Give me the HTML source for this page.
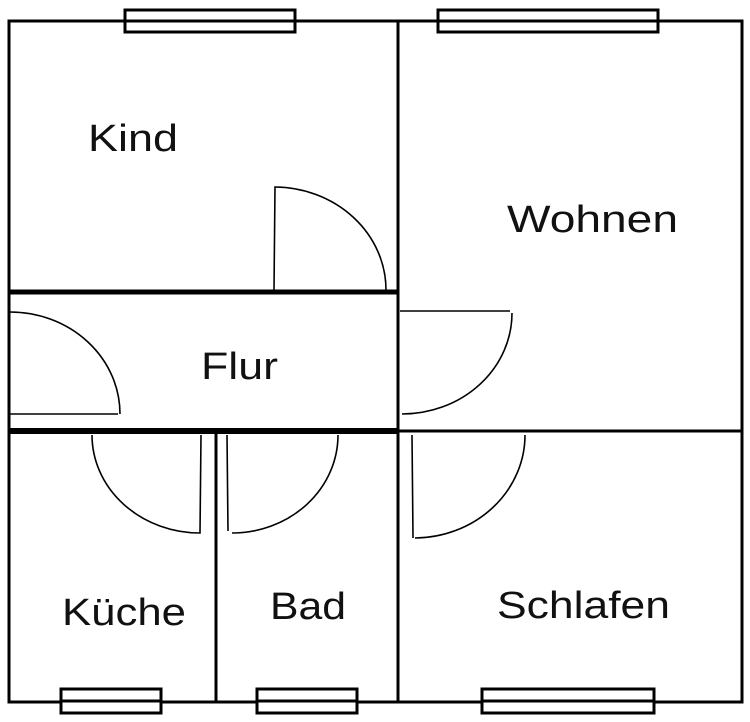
<!DOCTYPE html>
<html><head><meta charset="utf-8"><style>html,body{margin:0;padding:0;background:#fff}svg{display:block}</style></head>
<body>
<svg width="750" height="722" viewBox="0 0 750 722" xmlns="http://www.w3.org/2000/svg">
<g fill="none" stroke="#000">
<rect x="9" y="21" width="733" height="681" stroke-width="3"/>
<line x1="398" y1="21" x2="398" y2="702" stroke-width="3"/>
<line x1="9" y1="292" x2="398" y2="292" stroke-width="5"/>
<line x1="9" y1="431" x2="398" y2="431" stroke-width="6"/>
<line x1="398" y1="431" x2="742" y2="431" stroke-width="3"/>
<line x1="216" y1="431" x2="216" y2="702" stroke-width="3"/>
<g fill="#fff" stroke-width="3">
<rect x="125" y="10" width="170" height="22"/>
<rect x="438" y="10" width="220" height="22"/>
<rect x="61" y="689" width="100" height="24"/>
<rect x="257" y="689" width="100" height="24"/>
<rect x="482" y="689" width="172" height="24"/>
</g>
<line x1="125" y1="21" x2="295" y2="21" stroke-width="3"/>
<line x1="438" y1="21" x2="658" y2="21" stroke-width="3"/>
<line x1="61" y1="701" x2="161" y2="701" stroke-width="3"/>
<line x1="257" y1="701" x2="357" y2="701" stroke-width="3"/>
<line x1="482" y1="701" x2="654" y2="701" stroke-width="3"/>
<g stroke-width="1.6">
<path d="M274 290 L275 187 A112 103 0 0 1 386 290"/>
<path d="M10 414 L118 414 M10 312 A110 102 0 0 1 120 414"/>
<path d="M400 311 L510 311 M512 313 A110 101 0 0 1 402 414"/>
<path d="M201 435 L200 533 A108 98 0 0 1 92 435"/>
<path d="M227 435 L228 531 M238 435 L238 435 M338 435 A106 98 0 0 1 232 533"/>
<path d="M412 435 L413 538 M525 435 A111 103 0 0 1 415 538"/>
</g>
</g>
<g font-family="'Liberation Sans', sans-serif" font-size="38" fill="#111">
<text x="88" y="151" textLength="90" lengthAdjust="spacingAndGlyphs">Kind</text>
<text x="507" y="232" textLength="171" lengthAdjust="spacingAndGlyphs">Wohnen</text>
<text x="201" y="379" textLength="77" lengthAdjust="spacingAndGlyphs">Flur</text>
<text x="62" y="625" textLength="124" lengthAdjust="spacingAndGlyphs">Küche</text>
<text x="270" y="619" textLength="76" lengthAdjust="spacingAndGlyphs">Bad</text>
<text x="497" y="618" textLength="173" lengthAdjust="spacingAndGlyphs">Schlafen</text>
</g>
</svg>
</body></html>
